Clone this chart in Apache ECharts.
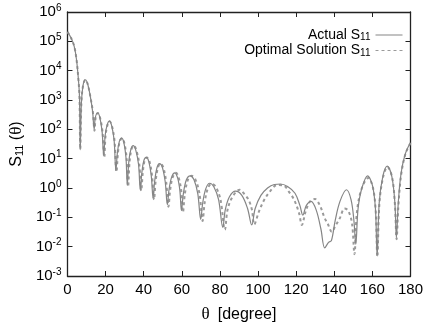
<!DOCTYPE html>
<html>
<head>
<meta charset="utf-8">
<script src="https://cdn.jsdelivr.net/npm/echarts@6/dist/echarts.min.js"></script>
<style>html,body{margin:0;padding:0;background:#fff}#c{width:426px;height:328px}</style>
</head>
<body>
<div id="c"></div>
<script>
// Actual S11 (solid)
var thetaActual = [0,1.9,3.5,4.7,5.7,6.3,6.7,7.3,8.2,9.4,10.6,12.0,13.2,14.0,14.6,15.8,17.0,18.2,19.0,19.8,20.8,22.0,23.3,24.5,25.4,26.2,27.2,28.4,29.6,30.7,31.4,32.2,33.3,34.5,35.8,37.3,38.2,39.0,40.0,41.3,42.6,44.0,44.9,45.8,47.0,48.3,49.8,51.3,52.4,53.3,54.7,56.3,57.8,59.0,59.8,60.8,62.4,64.4,66.4,68.4,69.9,71.0,72.6,74.6,76.8,79.3,81.5,82.8,85.0,88.2,91.5,94.5,96.7,98.5,101.5,105,108.5,111.8,115.5,119.4,122,123.5,125.3,127.8,130.5,133,135,137,138.5,140.5,143,146.4,148.8,150.3,151.3,152.5,154.5,157.5,160,161.6,162.5,163.6,165.5,167.8,170.2,171.8,172.6,173.5,174.5,175.6,177,178.2,180];
var s11Actual = [2.1e5,1.3e5,6.9e4,2.5e4,5.4e3,1.3e3,20,800,3.2e3,4.9e3,3.5e3,1.3e3,400,100,250,360,250,80,13,63,140,190,125,40,4,16,38,50,35,11,1.26,8,21,28,20,6.3,0.87,3.2,8.3,11,8.3,2.5,0.46,1.8,5,6.8,5,1.6,0.27,0.89,2.4,3.3,2.2,0.8,0.17,0.63,1.9,2.6,1.9,0.63,0.085,0.32,0.95,1.45,1.1,0.4,0.045,0.18,0.5,0.78,0.56,0.2,0.055,0.2,0.56,1.0,1.32,1.37,1.12,0.66,0.25,0.12,0.25,0.35,0.18,0.04,0.0091,0.014,0.016,0.079,0.35,0.87,0.4,0.079,0.012,0.2,1.0,2.6,1.26,0.2,0.0048,0.32,2.5,5.6,2.5,0.32,0.02,0.25,1.6,5.2,12.6,21,35];
// Optimal Solution S11 (dashed)
var thetaOptimal = [0,1.9,3.5,4.7,5.7,6.3,6.7,7.3,8.2,9.4,10.6,12.0,13.3,14.2,14.8,15.9,17.1,18.4,19.3,20.0,21.0,22.1,23.4,24.7,25.7,26.5,27.4,28.6,29.8,31.0,31.8,32.6,33.6,34.8,36.1,37.7,38.7,39.5,40.4,41.7,43.0,44.4,45.4,46.3,47.5,48.8,50.3,51.8,53.0,53.9,55.3,56.9,58.4,59.7,60.6,61.6,63.2,65.2,67.2,69.3,70.9,72.0,73.6,75.6,77.8,80.3,82.6,84.0,86.6,90.4,93.0,95,96.8,98.0,100.5,103.4,106.5,110,113.5,116.5,118.9,121.5,123,125,127.3,129.9,132.5,134.8,136.7,138.7,140.5,142.9,145.4,147.3,149.3,150.6,151.8,154,157.8,160.2,161.7,162.6,163.7,165.6,167.9,170.3,171.8,172.7,173.6,174.6,175.7,177,178.2,180];
var s11Optimal = [2.1e5,1.3e5,6.9e4,2.5e4,5.4e3,1.3e3,21,800,3.2e3,4.9e3,3.5e3,1.3e3,400,90,250,360,250,80,11,63,140,190,125,40,3.5,16,38,50,35,11,1.1,8,21,28,20,6.3,0.8,3.2,8.3,11,8.3,2.5,0.4,1.8,5,6.8,5,1.6,0.23,0.89,2.4,3.3,2.2,0.8,0.15,0.63,1.9,2.6,1.9,0.63,0.075,0.32,0.95,1.4,1.1,0.4,0.038,0.18,0.5,0.87,0.6,0.4,0.18,0.057,0.16,0.41,0.8,1.26,1.2,0.7,0.4,0.14,0.055,0.16,0.35,0.42,0.25,0.1,0.058,0.032,0.05,0.093,0.2,0.17,0.063,0.0055,0.13,0.8,2.2,1.1,0.18,0.0045,0.3,2.3,5.2,2.4,0.3,0.018,0.22,1.5,5,12,20,34];
var xTicks = [0,20,40,60,80,100,120,140,160,180];

function pairs(t, v){ var o=[]; for (var i=0;i<t.length;i++) o.push([t[i], v[i]]); return o; }

var chart = echarts.init(document.getElementById('c'), null, {renderer:'canvas'});
var font = 'Liberation Sans, Arial, Helvetica, sans-serif';
var serif = 'Liberation Serif, Times New Roman, serif';
var axisCol = '#222';
var supRich = {
  b:{fontSize:15, fontFamily:font, color:'#000'},
  s:{fontSize:10, fontFamily:font, color:'#000', verticalAlign:'top', padding:[0,0,8,0]}
};
var subRich = {
  a:{fontSize:14, fontFamily:font, color:'#000', lineHeight:15},
  s:{fontSize:10, fontFamily:font, color:'#000', verticalAlign:'bottom', padding:[4,0,0,0], lineHeight:15}
};
var option = {
  animation:false,
  backgroundColor:'#fff',
  grid:{left:63, right:6, top:12, bottom:47, containLabel:false},
  legend:{
    orient:'vertical', right:18, top:23, align:'right',
    itemWidth:27, itemHeight:14, itemGap:1,
    itemStyle:{opacity:0},
    lineStyle:{width:1},
    data:['Actual','Optimal'],
    formatter:function(n){ return n==='Actual' ? '{a|Actual S}{s|11}' : '{a|Optimal Solution S}{s|11}'; },
    textStyle:{rich:subRich, fontSize:14, fontFamily:font, color:'#000'}
  },
  xAxis:[{
    type:'value', min:0, max:180, interval:20, position:'bottom',
    name:'{t|θ}{d|[degree]}', nameLocation:'middle', nameGap:30,
    nameTextStyle:{rich:{t:{fontSize:17, fontFamily:serif, color:'#000', padding:[0,8,0,0]}, d:{fontSize:16, fontFamily:font, color:'#000'}}},
    axisLine:{show:true, onZero:false, lineStyle:{color:axisCol, width:1.3}},
    axisTick:{show:true, inside:true, length:5, lineStyle:{color:axisCol}},
    axisLabel:{fontSize:15, fontFamily:font, color:'#000', margin:6,
      formatter:function(v){ return xTicks.indexOf(v)>=0 ? String(v) : ''; }},
    splitLine:{show:false}
  },{
    type:'value', min:0, max:180, interval:20, position:'top',
    axisLine:{show:true, onZero:false, lineStyle:{color:axisCol, width:1.3}},
    axisTick:{show:true, inside:true, length:5, lineStyle:{color:axisCol}},
    axisLabel:{show:false}, splitLine:{show:false}
  }],
  yAxis:[{
    type:'log', logBase:10, min:0.001, max:1e6, interval:1, position:'left',
    name:'{a|S}{s|11}{a| (}{t|θ}{a|)}', nameLocation:'middle', nameGap:42, nameRotate:90,
    nameTextStyle:{rich:{a:{fontSize:16,fontFamily:font,color:'#000'}, t:{fontSize:17,fontFamily:serif,color:'#000'}, s:{fontSize:11,fontFamily:font,color:'#000',verticalAlign:'bottom',padding:[6,0,0,0]}}},
    axisLine:{show:true, onZero:false, lineStyle:{color:axisCol, width:1.3}},
    axisTick:{show:true, inside:true, length:5, lineStyle:{color:axisCol}},
    axisLabel:{margin:6, rich:supRich, formatter:function(v){ var e=Math.round(Math.log10(v)); return '{b|10}{s|'+e+'}'; }},
    splitLine:{show:false}
  },{
    type:'log', logBase:10, min:0.001, max:1e6, interval:1, position:'right',
    axisLine:{show:true, onZero:false, lineStyle:{color:axisCol, width:1.3}},
    axisTick:{show:true, inside:true, length:5, lineStyle:{color:axisCol}},
    axisLabel:{show:false}, splitLine:{show:false}
  }],
  series:[{
    name:'Actual', type:'line', xAxisIndex:0, yAxisIndex:0, symbol:'none', smooth:0.35,
    data:pairs(thetaActual, s11Actual),
    lineStyle:{color:'#858585', width:1.2}, itemStyle:{color:'#858585'}, z:3
  },{
    name:'Optimal', type:'line', xAxisIndex:0, yAxisIndex:0, symbol:'none', smooth:0.35,
    data:pairs(thetaOptimal, s11Optimal),
    lineStyle:{color:'#9a9a9a', width:2, type:[3,3]}, itemStyle:{color:'#9a9a9a'}, z:2
  }]
};
chart.setOption(option);
</script>
</body>
</html>
